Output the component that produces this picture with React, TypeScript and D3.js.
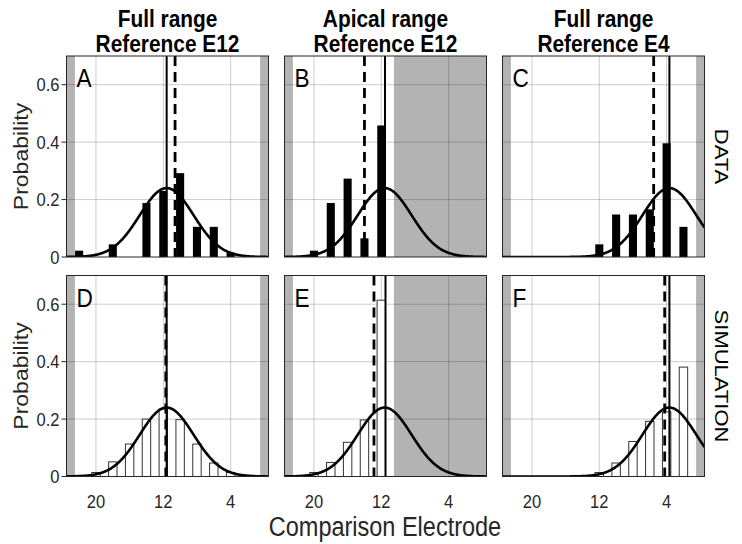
import React from "react";
import * as d3 from "d3";

// ---------- data ----------
const xTicks = [20, 12, 4];
const yTicks = [0, 0.2, 0.4, 0.6];
const yTickLabels = ["0", "0.2", "0.4", "0.6"];
const colTitles1 = ["Full range", "Apical range", "Full range"];
const colTitles2 = ["Reference E12", "Reference E12", "Reference E4"];
const rowLabels = ["DATA", "SIMULATION"];
const panelLetters = ["A", "B", "C", "D", "E", "F"];

const elecA = [22, 18, 14, 12, 10, 8, 6, 4];
const probA = [0.022, 0.044, 0.188, 0.23, 0.292, 0.105, 0.105, 0.015];
const elecB = [20, 18, 16, 14, 12];
const probB = [0.022, 0.188, 0.273, 0.065, 0.458];
const elecC = [12, 10, 8, 6, 4, 2];
const probC = [0.044, 0.148, 0.148, 0.166, 0.396, 0.105];
const elecD = [22, 20, 18, 16, 14, 12, 10, 8, 6, 4, 2];
const probD = [0.004, 0.014, 0.051, 0.113, 0.2, 0.235, 0.198, 0.113, 0.047, 0.014, 0.004];
const elecE = [22, 20, 18, 16, 14, 12];
const probE = [0.003, 0.014, 0.049, 0.119, 0.197, 0.614];
const elecF = [12, 10, 8, 6, 4, 2];
const probF = [0.014, 0.047, 0.122, 0.192, 0.225, 0.381];

// solid (fit mean) and dashed (observed mean) lines, per panel A..F
const solidLine = [11.6, 11.56, 3.67, 11.6, 11.5, 3.67];
const dashedLine = [10.6, 14.0, 5.54, 11.7, 12.87, 4.23];
// gaussian fit parameters per column
const fitMean = [11.6, 11.6, 3.67];
const fitPeak = [0.24, 0.24, 0.24];
const fitSd = [3.2, 3.2, 3.2];
// shaded (excluded) electrode ranges per column: [from, to]
const shadeRanges = [
  [[23.5, 22.5], [0.5, -0.5]],
  [[23.5, 22.5], [10.5, -0.5]],
  [[23.5, 22.5], [0.5, -0.5]],
];

const panelElec = [elecA, elecB, elecC, elecD, elecE, elecF];
const panelProb = [probA, probB, probC, probD, probE, probF];

// ---------- layout ----------
const W = 742, H = 544;
const colLeft = [66.5, 284.5, 502.5];
const pw = 202;
const rowTop = [56, 275.5];
const ph = 201;
const FONT = "'Liberation Sans', Arial, Helvetica, sans-serif";
const SX = 0.87; // horizontal condensation of glyphs

function HText({ x, y, size, anchor = "middle", bold = false, fill = "#000", dy = "0", children }: any) {
  return (
    <text
      transform={`translate(${x},${y}) scale(${SX},1)`}
      textAnchor={anchor}
      dy={dy}
      fontFamily={FONT}
      fontSize={size}
      fontWeight={bold ? "bold" : "normal"}
      fill={fill}
    >
      {children}
    </text>
  );
}

function Panel({ idx }: { idx: number }) {
  const col = idx % 3;
  const row = Math.floor(idx / 3);
  const x0 = colLeft[col];
  const y0 = rowTop[row];
  const x = d3.scaleLinear().domain([23.5, -0.5]).range([x0, x0 + pw]);
  const y = d3.scaleLinear().domain([0, 0.7]).range([y0 + ph, y0]);
  const isData = row === 0;
  const elec = panelElec[idx];
  const prob = panelProb[idx];
  const bw = isData ? 0.96 : 1.0;
  const gridColor = "rgba(0,0,0,0.2)";

  const curvePts = d3.range(-0.5, 23.5001, 0.05).map((e) => [
    e,
    fitPeak[col] * Math.exp(-((e - fitMean[col]) ** 2) / (2 * fitSd[col] ** 2)),
  ]);
  const line = d3
    .line<number[]>()
    .x((d) => x(d[0]))
    .y((d) => y(d[1]));
  const clipId = `clip${idx}`;

  return (
    <g>
      <defs>
        <clipPath id={clipId}>
          <rect x={x0} y={y0} width={pw} height={ph} />
        </clipPath>
      </defs>
      <rect x={x0} y={y0} width={pw} height={ph} fill="#fff" />
      <g clipPath={`url(#${clipId})`}>
        {shadeRanges[col].map((r, i) => (
          <rect key={i} x={x(r[0])} y={y0} width={x(r[1]) - x(r[0])} height={ph} fill="#b3b3b3" />
        ))}
        {xTicks.map((t) => (
          <line key={"gx" + t} x1={x(t)} x2={x(t)} y1={y0} y2={y0 + ph} stroke={gridColor} strokeWidth={1} />
        ))}
        {yTicks.slice(1).map((t) => (
          <line key={"gy" + t} x1={x0} x2={x0 + pw} y1={y(t)} y2={y(t)} stroke={gridColor} strokeWidth={1} />
        ))}
        {elec.map((e, i) => (
          <rect
            key={"b" + i}
            x={x(e + bw / 2)}
            y={y(prob[i])}
            width={x(e - bw / 2) - x(e + bw / 2)}
            height={y(0) - y(prob[i])}
            fill={isData ? "#000" : "#fff"}
            stroke={isData ? "none" : "#333"}
            strokeWidth={isData ? 0 : 1}
          />
        ))}
        <path d={line(curvePts) || ""} fill="none" stroke="#000" strokeWidth={2.6} />
        <line x1={x(solidLine[idx])} x2={x(solidLine[idx])} y1={y0} y2={y0 + ph} stroke="#000" strokeWidth={2} />
        <line
          x1={x(dashedLine[idx])}
          x2={x(dashedLine[idx])}
          y1={y0}
          y2={y0 + ph}
          stroke="#000"
          strokeWidth={2.8}
          strokeDasharray="10,6"
        />
      </g>
      <rect x={x0} y={y0} width={pw} height={ph} fill="none" stroke="#262626" strokeWidth={1} />
      <HText x={x0 + 10} y={y0 + 31} size={26} anchor="start">
        {panelLetters[idx]}
      </HText>
      {col === 0 &&
        yTicks.map((t, i) => (
          <g key={"yt" + i}>
            <line x1={x0 - 5} x2={x0} y1={y(t)} y2={y(t)} stroke="#262626" strokeWidth={1} />
            <HText x={x0 - 7} y={y(t)} dy="0.35em" size={19} anchor="end" fill="#262626">
              {yTickLabels[i]}
            </HText>
          </g>
        ))}
      {row === 1 &&
        xTicks.map((t) => (
          <HText key={"xt" + t} x={x(t)} y={y0 + ph + 25} dy="0.35em" size={19} fill="#262626">
            {t}
          </HText>
        ))}
    </g>
  );
}

export default function App() {
  return (
    <svg
      width={W}
      height={H}
      viewBox={`0 0 ${W} ${H}`}
      style={{ position: "absolute", left: 0, top: 0, background: "#fff" }}
    >
      <rect x={0} y={0} width={W} height={H} fill="#fff" />
      {[0, 1, 2, 3, 4, 5].map((i) => (
        <Panel key={i} idx={i} />
      ))}
      {colTitles1.map((t, c) => (
        <g key={"t" + c}>
          <HText x={colLeft[c] + pw / 2} y={27} size={24} bold>
            {t}
          </HText>
          <HText x={colLeft[c] + pw / 2} y={52} size={24} bold>
            {colTitles2[c]}
          </HText>
        </g>
      ))}
      {rowTop.map((top, r) => (
        <g key={"r" + r}>
          <text
            transform={`translate(21,${top + ph / 2}) rotate(-90) scale(1,${SX})`}
            textAnchor="middle"
            dy="0.35em"
            fontFamily={FONT}
            fontSize={23}
            fill="#262626"
          >
            Probability
          </text>
          <text
            transform={`translate(722,${top + ph / 2}) rotate(90) scale(1,${SX})`}
            textAnchor="middle"
            dy="0.35em"
            fontFamily={FONT}
            fontSize={22}
            fill="#000"
          >
            {rowLabels[r]}
          </text>
        </g>
      ))}
      <HText x={385} y={536} size={27} fill="#262626">
        Comparison Electrode
      </HText>
    </svg>
  );
}
